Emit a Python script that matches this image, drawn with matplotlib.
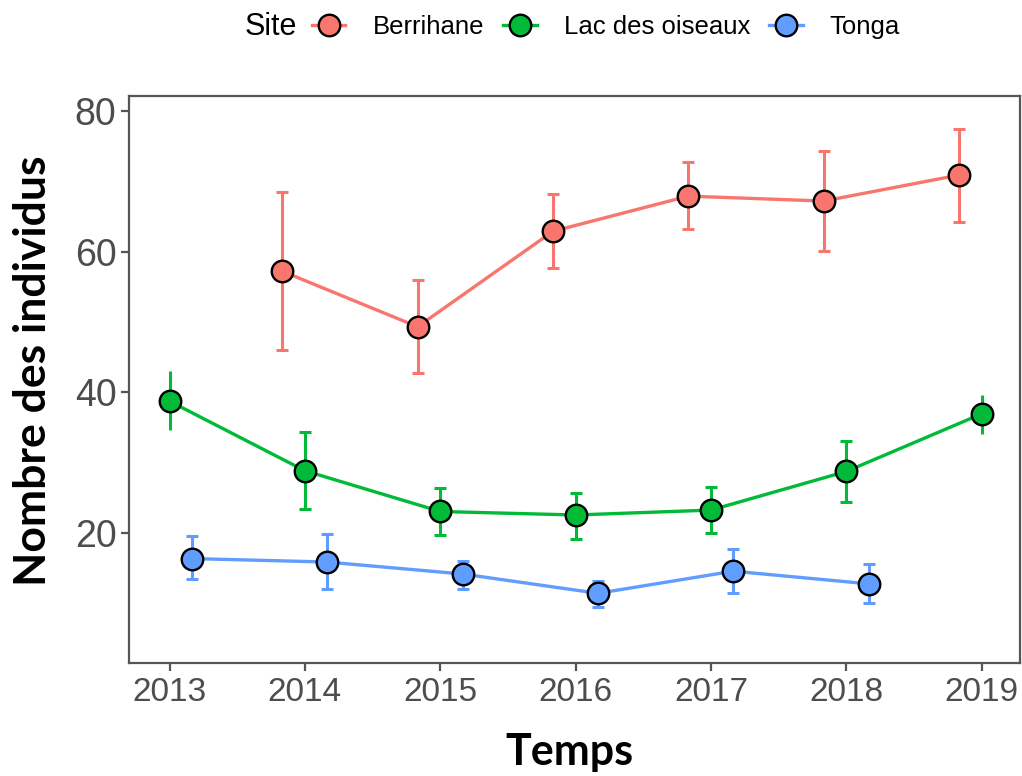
import numpy as np
import matplotlib
matplotlib.use("Agg")
import matplotlib.pyplot as plt
from matplotlib.lines import Line2D

years = [2013, 2014, 2015, 2016, 2017, 2018, 2019]
sites = ["Berrihane", "Lac des oiseaux", "Tonga"]
nan = np.nan
berrihane_mean = [nan, 57.2, 49.3, 62.9, 67.9, 67.2, 70.9]
berrihane_low = [nan, 46.0, 42.7, 57.6, 63.2, 60.1, 64.2]
berrihane_high = [nan, 68.5, 56.0, 68.2, 72.7, 74.3, 77.5]
lac_mean = [38.7, 28.8, 23.0, 22.5, 23.2, 28.7, 36.9]
lac_low = [34.6, 23.4, 19.6, 19.1, 20.0, 24.3, 34.0]
lac_high = [43.0, 34.3, 26.4, 25.7, 26.5, 33.0, 39.6]
tonga_mean = [16.3, 15.8, 14.1, 11.35, 14.5, 12.7, nan]
tonga_low = [13.4, 11.9, 11.9, 9.4, 11.35, 9.9, nan]
tonga_high = [19.5, 19.8, 16.0, 13.1, 17.7, 15.5, nan]

means = [berrihane_mean, lac_mean, tonga_mean]
lows = [berrihane_low, lac_low, tonga_low]
highs = [berrihane_high, lac_high, tonga_high]
colors = ["#F8766D", "#00BA38", "#619CFF"]
dodge = [-0.167, 0.0, 0.165]

fig = plt.figure(figsize=(10.22, 7.76), dpi=100)
ax = fig.add_axes([129/1022, 1-662.7/776, (1019.5-129)/1022, (662.7-95.7)/776])

yrs = np.array(years, dtype=float)
all_present = np.all([~np.isnan(np.array(m)) for m in means], axis=0)

for i, site in enumerate(sites):
    m = np.array(means[i]); lo = np.array(lows[i]); hi = np.array(highs[i])
    x = yrs + dodge[i]
    ok = ~np.isnan(m)
    err = np.vstack([m - lo, hi - m])
    capmask = ok.copy() if dodge[i] != 0 else (ok & all_present)
    nocap = ok & ~capmask
    if capmask.any():
        ax.errorbar(x[capmask], m[capmask], yerr=err[:, capmask], fmt='none',
                    ecolor=colors[i], elinewidth=2.2, capsize=4.5, capthick=2.2, zorder=2)
    if nocap.any():
        ax.errorbar(x[nocap], m[nocap], yerr=err[:, nocap], fmt='none',
                    ecolor=colors[i], elinewidth=2.2, capsize=0, zorder=2)
    ax.plot(x[ok], m[ok], color=colors[i], lw=2.4, zorder=3)
    ax.plot(x[ok], m[ok], 'o', ms=15.5, mfc=colors[i], mec='black', mew=1.7, zorder=4)

ax.set_xlim(2012.70, 2019.28)
ax.set_ylim(1.47, 82.2)
ax.set_xticks(years)
ax.set_xticklabels([str(y) for y in years])
ax.set_yticks([20, 40, 60, 80])
for s in ax.spines.values():
    s.set_color("#555555")
    s.set_linewidth(1.6)
ax.tick_params(axis='both', colors="#555555", width=1.6, length=6)
for lab in ax.get_xticklabels():
    lab.set_fontfamily("Liberation Sans"); lab.set_fontsize(24); lab.set_color("#4D4D4D")
for lab in ax.get_yticklabels():
    lab.set_fontfamily("Liberation Sans"); lab.set_fontsize(27); lab.set_color("#4D4D4D")
ax.tick_params(axis='x', pad=4)
ax.tick_params(axis='y', pad=3)

fig.text(569/1022, 1-752/776, "Temps", family="Lato", weight="bold", fontsize=31,
         ha="center", va="center", color="black")
fig.text(33/1022, 1-371/776, "Nombre des individus", family="Lato", weight="bold",
         fontsize=32, ha="center", va="center", rotation=90, color="black")

handles = [Line2D([], [], color=c, lw=2.4, marker='o', ms=15.5, mfc=c, mec='black', mew=1.7)
           for c in colors]
fig.text(297/1022, 1-27/776, "Site", family="Liberation Sans", fontsize=22,
         ha="right", va="center", color="black")
leg = fig.legend(handles, sites, loc="center", bbox_to_anchor=(606/1022, 1-27/776),
                 ncol=3, frameon=False, prop={"family": "Liberation Sans", "size": 18.5},
                 handlelength=1.3, handletextpad=1.05, columnspacing=0.75, borderpad=0)

fig.savefig("out.png", dpi=100, facecolor="white")
